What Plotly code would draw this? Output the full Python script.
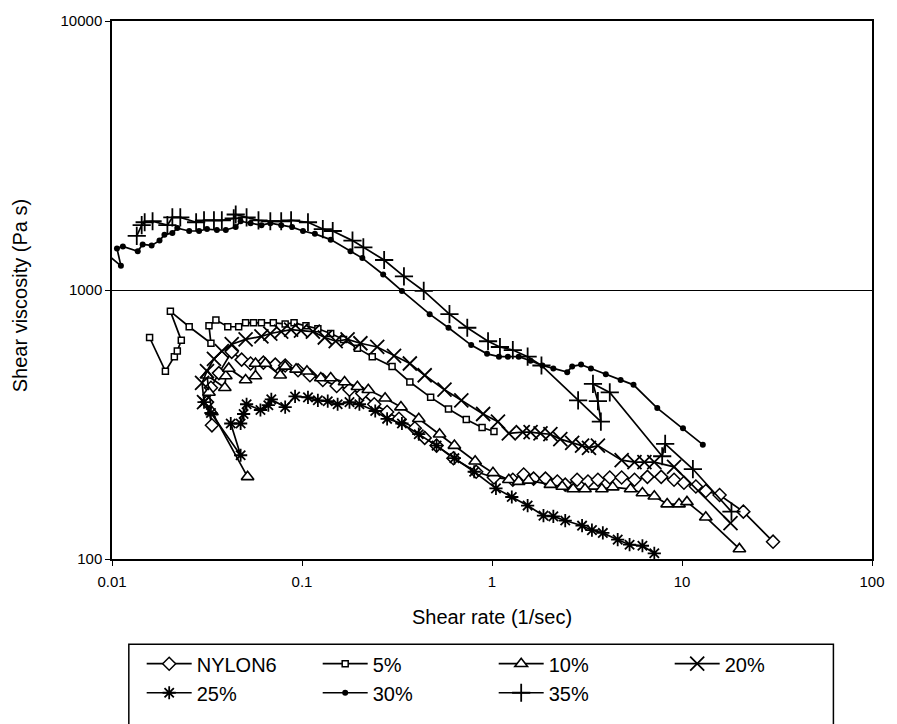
import plotly.graph_objects as go

# Shear rate (1/sec) and shear viscosity (Pa s) for each blend
nylon6_rate = [0.03357, 0.03162, 0.03317, 0.03652, 0.04267, 0.04812, 0.05361, 0.06264, 0.07234, 0.08155,
               0.09532, 0.1101, 0.1287, 0.1522, 0.1778, 0.2078, 0.24, 0.2805, 0.3239, 0.3924,
               0.4424, 0.5109, 0.6264, 0.8254, 1.024, 1.287, 1.468, 1.655, 1.911, 2.207,
               2.429, 2.805, 3.2, 3.609, 4.167, 4.812, 5.623, 6.573, 7.772, 9.083,
               10.24, 11.83, 13.34, 15.77, 21.03, 30.14]
nylon6_visc = [314, 383, 433, 491, 589, 551, 533, 537, 528, 524,
               503, 482, 463, 440, 426, 412, 376, 352, 332, 306,
               282, 264, 237, 211, 201, 197, 206, 199, 199, 194,
               189, 197, 194, 197, 201, 201, 197, 202, 202, 197,
               192, 186, 179, 173, 150, 116]

p5_rate = [0.01577, 0.0191, 0.02129, 0.02207, 0.02316, 0.02029, 0.02548, 0.03317, 0.03239, 0.03523,
           0.04068, 0.04642, 0.05049, 0.05556, 0.06116, 0.07063, 0.08155, 0.09083, 0.1049, 0.1212,
           0.1416, 0.1655, 0.1957, 0.2343, 0.2979, 0.3695, 0.4754, 0.5902, 0.7322, 0.8868, 1.024]
p5_visc = [666, 499, 565, 593, 650, 833, 730, 634, 736, 774,
           730, 730, 755, 755, 755, 755, 748, 755, 736, 718,
           689, 655, 608, 565, 520, 455, 399, 361, 330, 308, 298]

p10_rate = [0.05171, 0.03357, 0.03239, 0.03162, 0.03924, 0.03972, 0.04117, 0.05049, 0.05693, 0.05693,
            0.06416, 0.07679, 0.08155, 0.09307, 0.1062, 0.1256, 0.1416, 0.1675, 0.1957, 0.2233,
            0.2738, 0.3317, 0.4117, 0.5297, 0.634, 0.8155, 1.012, 1.226, 1.382, 1.558,
            2.029, 2.343, 2.674, 3.087, 3.786, 4.319, 5.361, 6.19, 7.148, 8.354,
            9.647, 10.62, 13.34, 20.05]
p10_visc = [202, 352, 416, 482, 433, 479, 511, 463, 479, 533,
            533, 482, 520, 507, 499, 471, 471, 455, 437, 426,
            396, 367, 332, 291, 264, 231, 209, 197, 194, 196,
            189, 186, 182, 182, 182, 185, 182, 176, 171, 160,
            160, 163, 143, 109]

p20_rate = [0.0305, 0.02979, 0.03162, 0.0344, 0.03785, 0.04267, 0.05049, 0.06116, 0.06813, 0.07772,
            0.08762, 0.09881, 0.1141, 0.1318, 0.1504, 0.1737, 0.2029, 0.2488, 0.3051, 0.3695,
            0.4424, 0.5623, 0.6895, 0.898, 1.075, 1.226, 1.451, 1.596, 1.8, 2.029,
            2.288, 2.642, 2.979, 3.239, 3.609, 4.812, 5.623, 6.34, 7.148, 9.083, 18.0]
p20_visc = [383, 452, 499, 555, 593, 629, 655, 672, 689, 700,
            712, 706, 700, 666, 645, 655, 634, 614, 569, 533,
            482, 426, 389, 346, 324, 293, 296, 296, 293, 291,
            279, 270, 264, 259, 264, 233, 229, 229, 229, 220, 136]

p25_rate = [0.0305, 0.03317, 0.04754, 0.04217, 0.04754, 0.04929, 0.05109, 0.06043, 0.06651, 0.06895,
            0.08155, 0.09195, 0.1075, 0.1212, 0.1366, 0.154, 0.1778, 0.2005, 0.2429, 0.2805,
            0.3357, 0.4117, 0.5109, 0.634, 0.806, 1.049, 1.271, 1.54, 1.866, 2.103,
            2.429, 2.979, 3.357, 3.831, 4.587, 5.297, 6.19, 7.148]
p25_visc = [383, 349, 243, 319, 319, 346, 376, 358, 373, 392,
            367, 402, 399, 389, 386, 376, 383, 376, 355, 332,
            319, 291, 264, 237, 211, 183, 170, 158, 145, 144,
            139, 133, 128, 125, 118, 113, 112, 105]

p30_rate = [0.00953, 0.01114, 0.01062, 0.01141, 0.01366, 0.0145, 0.01616, 0.01778, 0.01888, 0.02078,
            0.02207, 0.02548, 0.02873, 0.03162, 0.03565, 0.03972, 0.04478, 0.04754, 0.05361, 0.06116,
            0.06813, 0.07772, 0.08868, 0.1012, 0.1169, 0.1416, 0.18, 0.2078, 0.2674, 0.3357,
            0.4698, 0.5902, 0.7772, 0.9419, 1.088, 1.212, 1.382, 1.596, 1.843, 2.103,
            2.488, 2.642, 2.943, 3.317, 3.972, 4.754, 5.556, 7.41, 10.12, 12.87]
p30_visc = [1347, 1230, 1428, 1452, 1393, 1476, 1464, 1526, 1603, 1630,
            1699, 1657, 1657, 1685, 1671, 1671, 1713, 1801, 1771, 1742,
            1771, 1742, 1713, 1657, 1617, 1539, 1393, 1314, 1142, 992,
            813, 724, 624, 579, 565, 565, 565, 546, 524, 511,
            495, 520, 528, 511, 486, 463, 444, 364, 306, 266]

p35_rate = [0.0135, 0.01433, 0.01486, 0.01635, 0.01957, 0.02078, 0.02288, 0.02772, 0.0305, 0.0344,
            0.03785, 0.04372, 0.04478, 0.05109, 0.05902, 0.06813, 0.07772, 0.08762, 0.1075, 0.1287,
            0.1451, 0.1844, 0.2103, 0.2706, 0.344, 0.4372, 0.5972, 0.741, 0.9532, 1.101,
            1.287, 1.54, 1.821, 2.839, 3.741, 3.609, 3.399, 4.167, 7.865, 8.155,
            11.41, 18.21]
p35_visc = [1590, 1742, 1786, 1801, 1742, 1861, 1861, 1786, 1816, 1816,
            1816, 1846, 1908, 1861, 1816, 1801, 1801, 1816, 1786, 1685,
            1657, 1526, 1440, 1293, 1123, 992, 813, 724, 645, 614,
            598, 565, 524, 389, 324, 386, 448, 416, 241, 268,
            216, 150]

FONT = "Liberation Sans, Arial, sans-serif"

series = [
    ("NYLON6", nylon6_rate, nylon6_visc, dict(symbol="diamond", size=10, color="white",
                                               line=dict(color="black", width=1.5)), "legend"),
    ("5%", p5_rate, p5_visc, dict(symbol="square", size=6, color="white",
                                  line=dict(color="black", width=1.5)), "legend"),
    ("10%", p10_rate, p10_visc, dict(symbol="triangle-up", size=11, color="white",
                                     line=dict(color="black", width=1.6)), "legend"),
    ("20%", p20_rate, p20_visc, dict(symbol="x-thin-open", size=14, color="black",
                                     line=dict(color="black", width=1.8)), "legend"),
    ("25%", p25_rate, p25_visc, dict(symbol="asterisk-open", size=11, color="black",
                                     line=dict(color="black", width=1.8)), "legend2"),
    ("30%", p30_rate, p30_visc, dict(symbol="circle", size=6, color="black",
                                     line=dict(color="black", width=0)), "legend2"),
    ("35%", p35_rate, p35_visc, dict(symbol="cross-thin-open", size=13, color="black",
                                     line=dict(color="black", width=1.8)), "legend2"),
]

fig = go.Figure()
for name, xs, ys, mk, leg in series:
    fig.add_trace(go.Scatter(
        x=xs, y=ys, name=name, mode="lines+markers",
        line=dict(color="black", width=1.7),
        marker=mk, legend=leg,
    ))

L, R, T, B = 112, 17, 17, 152
W, H = 897, 724
pw, ph = W - L - R, H - T - B


def px_x(p):
    return (p - L) / pw


def px_y(p):
    return (T + ph - p) / ph


axis_font = dict(family=FONT, size=15, color="black")
title_font = dict(family=FONT, size=20, color="black")
legend_font = dict(family=FONT, size=20, color="black")

fig.update_layout(
    width=W, height=H,
    margin=dict(l=L, r=R, t=T, b=B, pad=0),
    paper_bgcolor="white", plot_bgcolor="white",
    font=dict(family=FONT, color="black"),
    xaxis=dict(
        type="log", range=[-2, 2],
        tickvals=[0.01, 0.1, 1, 10, 100], ticktext=["0.01", "0.1", "1", "10", "100"],
        showgrid=False, zeroline=False,
        showline=True, linecolor="black", linewidth=1.5, mirror=True,
        ticks="outside", ticklen=5, tickcolor="black", tickwidth=1.2,
        tickfont=axis_font, ticklabelstandoff=3,
    ),
    yaxis=dict(
        type="log", range=[2, 4],
        tickvals=[100, 1000, 10000], ticktext=["100", "1000", "10000"],
        showgrid=True, gridcolor="black", gridwidth=1,
        zeroline=False,
        showline=True, linecolor="black", linewidth=1.5, mirror=True,
        ticks="outside", ticklen=5, tickcolor="black", tickwidth=1.2,
        tickfont=axis_font,
    ),
    legend=dict(
        orientation="h", x=px_x(142), xanchor="left", y=px_y(680), yanchor="middle",
        font=legend_font, itemwidth=45,
        bgcolor="rgba(0,0,0,0)", borderwidth=0,
        entrywidth=116, entrywidthmode="pixels", tracegroupgap=0,
    ),
    legend2=dict(
        orientation="h", x=px_x(142), xanchor="left", y=px_y(710), yanchor="middle",
        font=legend_font, itemwidth=45,
        bgcolor="rgba(0,0,0,0)", borderwidth=0,
        entrywidth=116, entrywidthmode="pixels", tracegroupgap=0,
    ),
    showlegend=True,
)

# Frame around the two legend rows (its lower edge runs past the page)
fig.add_shape(type="rect", xref="paper", yref="paper",
              x0=px_x(129), x1=px_x(841), y0=px_y(660), y1=px_y(745),
              line=dict(color="black", width=1.5), fillcolor="rgba(0,0,0,0)", layer="above")

fig.add_annotation(text="Shear rate (1/sec)", xref="paper", yref="paper",
                   x=0.5, y=px_y(632), xanchor="center", yanchor="middle",
                   showarrow=False, font=title_font)
fig.add_annotation(text="Shear viscosity (Pa s)", xref="paper", yref="paper",
                   x=px_x(19), y=px_y(300), xanchor="center", yanchor="middle",
                   textangle=-90, showarrow=False, font=title_font)

fig.write_html("out.html")
